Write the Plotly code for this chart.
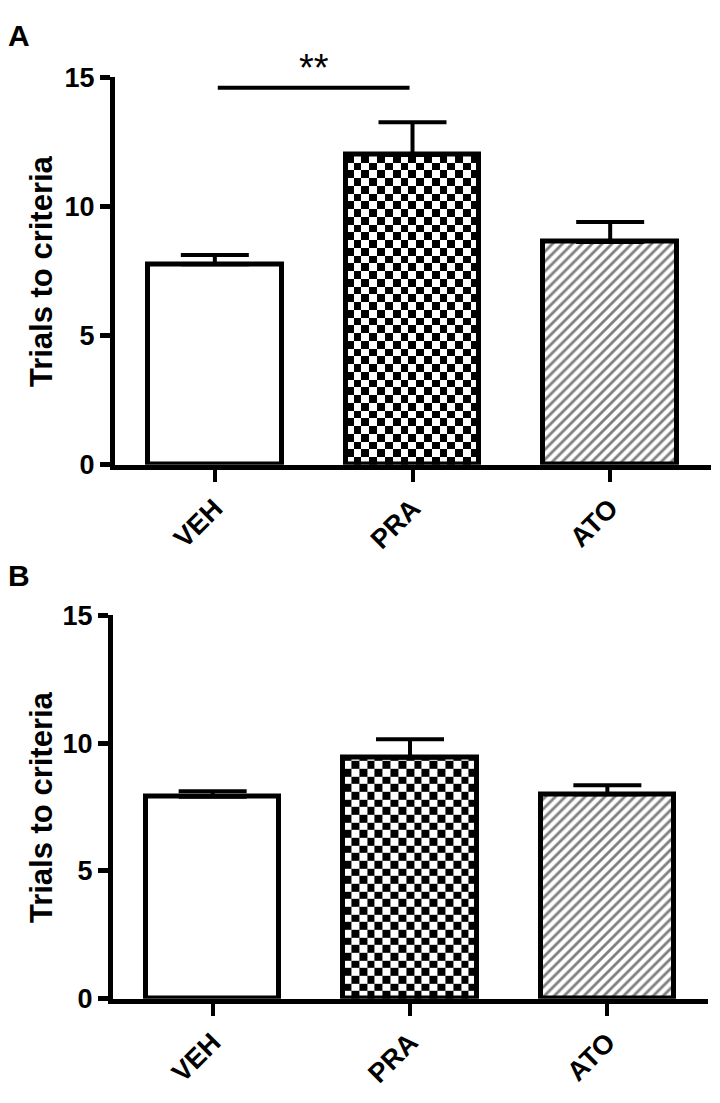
import numpy as np
import plotly.graph_objects as go

categories = ["VEH", "PRA", "ATO"]
means_A = [7.76, 12.0, 8.63]
sem_A = [0.36, 1.27, 0.77]
means_B = [7.9, 9.43, 8.0]
sem_B = [0.22, 0.72, 0.35]
y_ticks = [0, 5, 10, 15]
sig_pair = (0, 1)
sig_y = 14.6
sig_label = "**"
panel_labels = ["A", "B"]
y_title = "Trials to criteria"

FONT = "Liberation Sans, Arial, sans-serif"
BAR_W = 0.675
CHECK_STEP_Y = 0.3
CHECK_COLS = 17

W, H = 720, 1103
OFF = 8  # the page body margin shifts the figure by 8 px


def px_x(x):
    return (x - OFF) / W


def px_y(y):
    return 1 - (y - OFF) / H


xdom = {"A": [px_x(115), px_x(711)], "B": [px_x(113), px_x(708)]}
ydom = {"A": [px_y(462), px_y(64)], "B": [px_y(1011), px_y(617)]}

fig = go.Figure()
xpos = list(range(len(categories)))
fills = ["white", "rgba(0,0,0,0)", "white"]
shapes = ["", "", "/"]


def add_panel(means, sems, xa, ya):
    # checkerboard fill for PRA (under the bar outline)
    i = 1
    xe = np.linspace(xpos[i] - BAR_W / 2, xpos[i] + BAR_W / 2, CHECK_COLS + 1)
    ye = list(np.arange(0, means[i], CHECK_STEP_Y))
    ye.append(means[i])
    ye = np.array(ye)
    nr, nc = len(ye) - 1, CHECK_COLS
    z = [[(r + c) % 2 for c in range(nc)] for r in range(nr)]
    fig.add_trace(go.Heatmap(x=xe, y=ye, z=z, zmin=0, zmax=1,
                             colorscale=[[0, "white"], [1, "black"]],
                             showscale=False, hoverinfo="skip",
                             xaxis=xa, yaxis=ya))
    for k in range(len(categories)):
        mk = dict(color=fills[k], line=dict(color="black", width=5))
        if shapes[k]:
            mk["pattern"] = dict(shape=shapes[k], fgcolor="black", bgcolor="white",
                                 size=7, solidity=0.4)
        fig.add_trace(go.Bar(
            x=[xpos[k]], y=[means[k]], width=BAR_W, marker=mk,
            error_y=dict(type="data", array=[sems[k]], symmetric=False,
                         arrayminus=[0], color="black", thickness=4, width=34),
            xaxis=xa, yaxis=ya, showlegend=False, hoverinfo="skip"))


add_panel(means_A, sem_A, "x", "y")
add_panel(means_B, sem_B, "x2", "y2")

axis_common_x = dict(range=[-0.505, 2.51], tickvals=xpos, ticktext=categories,
                     tickangle=-45, showline=True, linecolor="black", linewidth=5,
                     ticks="outside", ticklen=12, tickwidth=4, tickcolor="black",
                     showgrid=False, zeroline=False,
                     tickfont=dict(family=FONT, size=27, color="black", weight="bold"))
axis_common_y = dict(range=[0, 15], tickvals=y_ticks, showline=True,
                     linecolor="black", linewidth=5, ticks="outside", ticklen=10,
                     tickwidth=5, tickcolor="black", showgrid=False, zeroline=False,
                     tickfont=dict(family=FONT, size=27, color="black", weight="bold"))

fig.update_layout(
    width=W, height=H, margin=dict(l=0, r=0, t=0, b=0),
    paper_bgcolor="white", plot_bgcolor="white", showlegend=False,
    bargap=0, barmode="overlay",
    xaxis=dict(domain=xdom["A"], anchor="y", **axis_common_x),
    yaxis=dict(domain=ydom["A"], anchor="x", **axis_common_y),
    xaxis2=dict(domain=xdom["B"], anchor="y2", **axis_common_x),
    yaxis2=dict(domain=ydom["B"], anchor="x2", **axis_common_y),
)

# significance bar
fig.add_shape(type="line", xref="x", yref="y", x0=sig_pair[0] + 0.015,
              x1=sig_pair[1] - 0.015, y0=sig_y, y1=sig_y,
              line=dict(color="black", width=4))
fig.add_annotation(xref="x", yref="paper", x=(sig_pair[0] + sig_pair[1]) / 2,
                   y=px_y(54), text=sig_label, showarrow=False,
                   font=dict(family=FONT, size=38, color="black"),
                   yanchor="middle")

# panel letters
for lab, yy in zip(panel_labels, [21, 576]):
    fig.add_annotation(xref="paper", yref="paper", x=px_x(19), y=px_y(yy),
                       text=lab, showarrow=False, xanchor="center", yanchor="middle",
                       font=dict(family=FONT, size=30, color="black", weight="bold"))

# y titles
for yc in [263, 814]:
    fig.add_annotation(xref="paper", yref="paper", x=px_x(41), y=px_y(yc),
                       text=y_title, textangle=-90, showarrow=False,
                       xanchor="center", yanchor="middle",
                       font=dict(family=FONT, size=31, color="black", weight="bold"))

fig.write_html("out.html")
